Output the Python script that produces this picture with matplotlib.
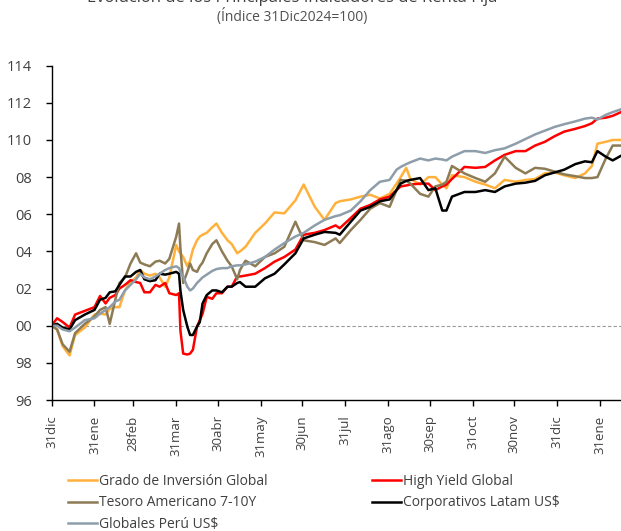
import matplotlib
matplotlib.use("Agg")
import matplotlib.pyplot as plt
import matplotlib.dates as mdates
import pandas as pd

plt.rcParams['font.family'] = ['Open Sans', 'DejaVu Sans']

fechas = ["2024-12-31", "2025-01-04", "2025-01-08", "2025-01-13", "2025-01-17", "2025-01-24",
          "2025-01-31", "2025-02-04", "2025-02-08", "2025-02-11", "2025-02-15", "2025-02-18",
          "2025-02-22", "2025-02-26", "2025-03-02", "2025-03-05", "2025-03-08", "2025-03-12",
          "2025-03-16", "2025-03-19", "2025-03-23", "2025-03-26", "2025-03-31", "2025-04-02",
          "2025-04-03", "2025-04-05", "2025-04-08", "2025-04-10", "2025-04-12", "2025-04-15",
          "2025-04-17", "2025-04-19", "2025-04-22", "2025-04-26", "2025-04-29", "2025-05-03",
          "2025-05-07", "2025-05-10", "2025-05-14", "2025-05-16", "2025-05-20", "2025-05-27",
          "2025-06-03", "2025-06-10", "2025-06-17", "2025-06-25", "2025-07-01", "2025-07-09",
          "2025-07-16", "2025-07-24", "2025-07-27", "2025-08-04", "2025-08-11", "2025-08-18",
          "2025-08-25", "2025-09-01", "2025-09-06", "2025-09-09", "2025-09-13", "2025-09-16",
          "2025-09-23", "2025-09-29", "2025-10-04", "2025-10-09", "2025-10-12", "2025-10-16",
          "2025-10-25", "2025-11-02", "2025-11-09", "2025-11-16", "2025-11-23", "2025-12-01",
          "2025-12-08", "2025-12-15", "2025-12-22", "2025-12-29", "2026-01-05", "2026-01-13",
          "2026-01-20", "2026-01-25", "2026-01-29", "2026-02-04", "2026-02-09", "2026-02-15"]

grado_inversion = [100.0, 99.8, 98.9, 98.4, 99.5, 99.9, 100.6, 100.65, 100.6, 100.9, 101.0, 101.0,
                   101.9, 102.35, 102.6, 103.0, 102.8, 102.7, 102.8, 102.6, 102.1, 102.6, 104.35, 104.0,
                   103.9, 103.7, 103.2, 103.5, 104.1, 104.6, 104.8, 104.9, 105.0, 105.3, 105.5, 105.0,
                   104.6, 104.4, 103.9, 104.0, 104.25, 105.0, 105.5, 106.1, 106.05, 106.75, 107.6, 106.4,
                   105.7, 106.6, 106.7, 106.8, 106.95, 107.05, 106.85, 107.1, 107.65, 108.0, 108.5, 107.9,
                   107.6, 108.0, 108.0, 107.6, 107.4, 108.1, 108.0, 107.75, 107.6, 107.4, 107.85, 107.75,
                   107.85, 107.9, 108.2, 108.25, 108.1, 107.95, 108.2, 108.6, 109.8, 109.9, 110.0, 110.0]

high_yield = [100.0, 100.4, 100.2, 99.9, 100.6, 100.8, 101.0, 101.6, 101.2, 101.5, 101.65, 102.0,
              102.2, 102.45, 102.35, 102.3, 101.8, 101.8, 102.2, 102.1, 102.3, 101.75, 101.65, 101.75,
              99.75, 98.5, 98.45, 98.5, 98.7, 99.95, 100.3, 100.65, 101.55, 101.45, 101.75, 101.75,
              102.1, 102.1, 102.65, 102.65, 102.7, 102.8, 103.1, 103.45, 103.7, 104.1, 104.9, 105.0,
              105.15, 105.4, 105.25, 105.8, 106.3, 106.5, 106.8, 106.95, 107.3, 107.5, 107.55, 107.6,
              107.65, 107.65, 107.3, 107.5, 107.6, 107.9, 108.55, 108.5, 108.55, 108.9, 109.2, 109.4,
              109.4, 109.7, 109.9, 110.2, 110.45, 110.6, 110.75, 110.9, 111.15, 111.2, 111.3, 111.5]

tesoro = [100.0, 99.8, 99.0, 98.6, 99.6, 100.1, 100.5, 100.85, 101.0, 100.1, 101.4, 102.3,
          102.6, 103.35, 103.9, 103.4, 103.3, 103.2, 103.45, 103.5, 103.35, 103.6, 104.8, 105.5,
          104.2, 102.3, 102.9, 103.35, 103.0, 102.9, 103.2, 103.4, 103.9, 104.4, 104.6, 104.0,
          103.5, 103.2, 102.5, 103.0, 103.5, 103.2, 103.7, 103.9, 104.25, 105.6, 104.6, 104.5,
          104.35, 104.7, 104.45, 105.15, 105.7, 106.3, 106.6, 106.4, 107.3, 107.85, 107.8, 107.65,
          107.1, 106.95, 107.5, 107.6, 107.75, 108.6, 108.2, 107.95, 107.75, 108.2, 109.1, 108.5,
          108.2, 108.5, 108.45, 108.3, 108.15, 108.05, 107.95, 107.95, 108.0, 109.0, 109.7, 109.7]

latam = [100.0, 100.1, 99.9, 99.8, 100.3, 100.6, 100.85, 101.4, 101.5, 101.8, 101.85, 102.2,
         102.65, 102.65, 102.9, 103.0, 102.5, 102.4, 102.45, 102.8, 102.75, 102.8, 102.9, 102.8,
         101.9, 100.85, 99.95, 99.5, 99.5, 99.95, 100.2, 101.2, 101.65, 101.9, 101.9, 101.8,
         102.1, 102.1, 102.3, 102.35, 102.1, 102.1, 102.55, 102.8, 103.3, 103.9, 104.7, 104.9,
         105.05, 105.0, 104.9, 105.6, 106.2, 106.4, 106.7, 106.8, 107.3, 107.65, 107.8, 107.85,
         107.95, 107.3, 107.4, 106.2, 106.2, 106.95, 107.2, 107.2, 107.3, 107.2, 107.5, 107.65,
         107.7, 107.8, 108.1, 108.25, 108.4, 108.7, 108.85, 108.8, 109.4, 109.1, 108.9, 109.15]

peru = [100.0, 100.0, 99.8, 99.7, 99.9, 100.3, 100.4, 100.65, 100.85, 101.0, 101.3, 101.4,
        101.9, 102.2, 102.5, 102.8, 102.6, 102.5, 102.65, 102.8, 103.0, 103.1, 103.2, 103.1,
        102.9, 102.65, 102.1, 101.9, 102.0, 102.3, 102.45, 102.6, 102.75, 102.95, 103.05, 103.1,
        103.1, 103.2, 103.25, 103.25, 103.3, 103.45, 103.7, 104.1, 104.45, 104.8, 105.0, 105.4,
        105.7, 105.9, 105.95, 106.2, 106.7, 107.3, 107.75, 107.85, 108.4, 108.55, 108.7, 108.8,
        109.0, 108.9, 109.0, 108.95, 108.9, 109.1, 109.4, 109.4, 109.3, 109.45, 109.55, 109.8,
        110.05, 110.3, 110.5, 110.7, 110.85, 111.0, 111.15, 111.2, 111.1, 111.35, 111.5, 111.65]

series_nombres = ["Grado de Inversión Global", "High Yield Global", "Tesoro Americano 7-10Y",
                  "Corporativos Latam US$", "Globales Perú US$"]
series_colores = ["#FFB13B", "#FF0000", "#8C7B55", "#000000", "#8E9DAA"]

tick_fechas = ["2024-12-31", "2025-01-31", "2025-02-28", "2025-03-31", "2025-04-30", "2025-05-31",
               "2025-06-30", "2025-07-31", "2025-08-31", "2025-09-30", "2025-10-31", "2025-11-30",
               "2025-12-31", "2026-01-31"]
tick_etiquetas = ["31dic", "31ene", "28feb", "31mar", "30abr", "31may", "30jun", "31jul", "31ago",
                  "30sep", "31oct", "30nov", "31dic", "31ene"]

y_ticks = [96, 98, 100, 102, 104, 106, 108, 110, 112, 114]
y_etiquetas = ["96", "98", "00", "02", "04", "06", "08", "110", "112", "114"]

titulo = "Evolución de los Principales Indicadores de Renta Fija"
subtitulo = "(Índice 31Dic2024=100)"

x = pd.to_datetime(fechas)
valores = [grado_inversion, high_yield, tesoro, latam, peru]

fig = plt.figure(figsize=(6.21, 5.31), dpi=100)
ax = fig.add_axes([0.083, 0.2467, 0.917, 0.6296])

ax.axhline(100, color="#9A9A9A", lw=0.8, ls=(0, (3, 2)), zorder=1)
lineas = []
for nombre, col, v in zip(series_nombres, series_colores, valores):
    l, = ax.plot(x, v, color=col, lw=1.8, label=nombre, zorder=2)
    lineas.append(l)

ax.set_ylim(96, 114)
ax.set_xlim(pd.Timestamp("2024-12-31"), pd.Timestamp("2026-02-15"))
ax.set_yticks(y_ticks)
ax.set_yticklabels(y_etiquetas)
ax.set_xticks(pd.to_datetime(tick_fechas))
ax.set_xticklabels(tick_etiquetas, rotation=90)

for s in ["top", "right"]:
    ax.spines[s].set_visible(False)
for s in ["left", "bottom"]:
    ax.spines[s].set_color("black")
    ax.spines[s].set_linewidth(1.0)
ax.tick_params(axis="y", length=4, width=1, pad=10, labelsize=10.5, labelcolor="#404040")
ax.tick_params(axis="x", length=4, width=1, pad=7, labelsize=9.5, labelcolor="#404040")

orden = [0, 2, 4, 1, 3]
fig.legend([lineas[i] for i in orden], [series_nombres[i] for i in orden],
           loc="upper left", bbox_to_anchor=(0.109, 0.107), ncol=2, frameon=False,
           fontsize=10, handlelength=2.1, handletextpad=0.15, columnspacing=7.5,
           labelspacing=0.45, borderpad=0, borderaxespad=0, labelcolor="#404040")

fig.text(0.47, 1 - 2.5 / 531, titulo, ha="center", va="baseline", fontsize=12, color="#404040")
fig.text(0.47, 1 - 16 / 531, subtitulo, ha="center", va="center", fontsize=10, color="#505050")

fig.savefig("out.png", dpi=100)
